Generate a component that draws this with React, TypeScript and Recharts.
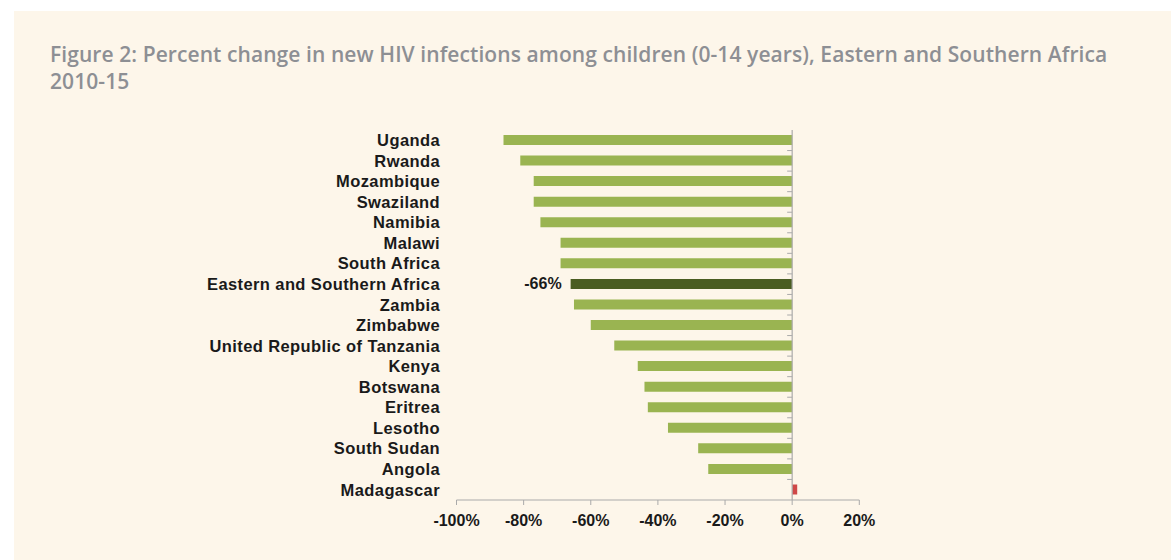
import React from "react";
import { BarChart, Bar, XAxis, YAxis, Cell, LabelList, ReferenceLine } from "recharts";

const countries = [
  "Uganda",
  "Rwanda",
  "Mozambique",
  "Swaziland",
  "Namibia",
  "Malawi",
  "South Africa",
  "Eastern and Southern Africa",
  "Zambia",
  "Zimbabwe",
  "United Republic of Tanzania",
  "Kenya",
  "Botswana",
  "Eritrea",
  "Lesotho",
  "South Sudan",
  "Angola",
  "Madagascar",
];

const percentChange = [
  -86, -81, -77, -77, -75, -69, -69, -66, -65, -60, -53, -46, -44, -43, -37, -28, -25, 1.5,
];

const xTicks = [-100, -80, -60, -40, -20, 0, 20];

const REGION = "Eastern and Southern Africa";
const GREEN = "#9ab451";
const DARK_GREEN = "#4a5d22";
const RED = "#cf4848";
const AXIS_GREY = "#aaaaaa";

const data = countries.map((name, i) => ({ name, value: percentChange[i] }));

const barColor = (name: string, value: number) => {
  if (name === REGION) return DARK_GREEN;
  return value > 0 ? RED : GREEN;
};

// vertical line at 0% with small ticks between the categories
const ZeroLine = (props: any) => {
  const { x1, y1, y2 } = props;
  const top = Math.min(y1, y2);
  const bottom = Math.max(y1, y2);
  const step = (bottom - top) / countries.length;
  const marks = [];
  for (let i = 1; i < countries.length; i++) {
    const y = top + step * i;
    marks.push(<line key={i} x1={x1 - 5} x2={x1} y1={y} y2={y} stroke={AXIS_GREY} strokeWidth={1} />);
  }
  return (
    <g>
      <line x1={x1} x2={x1} y1={top} y2={bottom} stroke={AXIS_GREY} strokeWidth={1.2} />
      {marks}
    </g>
  );
};

const RegionLabel = (props: any) => {
  const { x, y, width, height, index, value } = props;
  if (countries[index] !== REGION) return null;
  const left = Math.min(x, x + width);
  return (
    <text
      x={left - 9}
      y={y + height / 2}
      textAnchor="end"
      dominantBaseline="central"
      fontFamily="'Liberation Sans', Arial, sans-serif"
      fontWeight="bold"
      fontSize={16}
      fill="#1a1a1a"
    >
      {`${value}%`}
    </text>
  );
};

export default function App() {
  return (
    <div style={{ position: "fixed", left: 0, top: 0, width: 1171, height: 560, background: "#ffffff" }}>
      <div style={{ position: "absolute", left: 14, top: 11, width: 1157, height: 549, background: "#fdf6ea" }} />
      <div
        style={{
          position: "absolute",
          left: 50,
          top: 41,
          width: 1110,
          fontFamily: "'Open Sans', Lato, sans-serif",
          fontWeight: 600,
          fontSize: 21,
          letterSpacing: 0.08,
          lineHeight: "26.7px",
          color: "#8d8f94",
          whiteSpace: "nowrap",
        }}
      >
        Figure 2: Percent change in new HIV infections among children (0-14 years), Eastern and Southern Africa
        <br />
        2010-15
      </div>
      <div style={{ position: "absolute", left: 0, top: 0 }}>
        <BarChart
          width={1171}
          height={560}
          data={data}
          layout="vertical"
          margin={{ top: 130, right: 311.7, left: 206.5, bottom: 30 }}
          barCategoryGap={0}
        >
          <XAxis
            type="number"
            domain={[-100, 20]}
            ticks={xTicks}
            allowDataOverflow
            tickFormatter={(v) => `${v}%`}
            stroke={AXIS_GREY}
            tickSize={5}
            tickMargin={10}
            height={30}
            tick={{ fill: "#1a1a1a", fontSize: 16, fontWeight: "bold", fontFamily: "'Liberation Sans', Arial, sans-serif" }}
          />
          <YAxis
            type="category"
            dataKey="name"
            width={250}
            axisLine={false}
            tickLine={false}
            tickSize={0}
            tickMargin={16.5}
            interval={0}
            tick={{
              fill: "#1a1a1a",
              fontSize: 16.5,
              fontWeight: "bold",
              fontFamily: "'Liberation Sans', Arial, sans-serif",
              letterSpacing: 0.4,
            }}
          />
          <ReferenceLine x={0} shape={ZeroLine} />
          <Bar dataKey="value" barSize={10} isAnimationActive={false}>
            {data.map((d) => (
              <Cell key={d.name} fill={barColor(d.name, d.value)} />
            ))}
            <LabelList dataKey="value" content={RegionLabel} />
          </Bar>
        </BarChart>
      </div>
    </div>
  );
}
